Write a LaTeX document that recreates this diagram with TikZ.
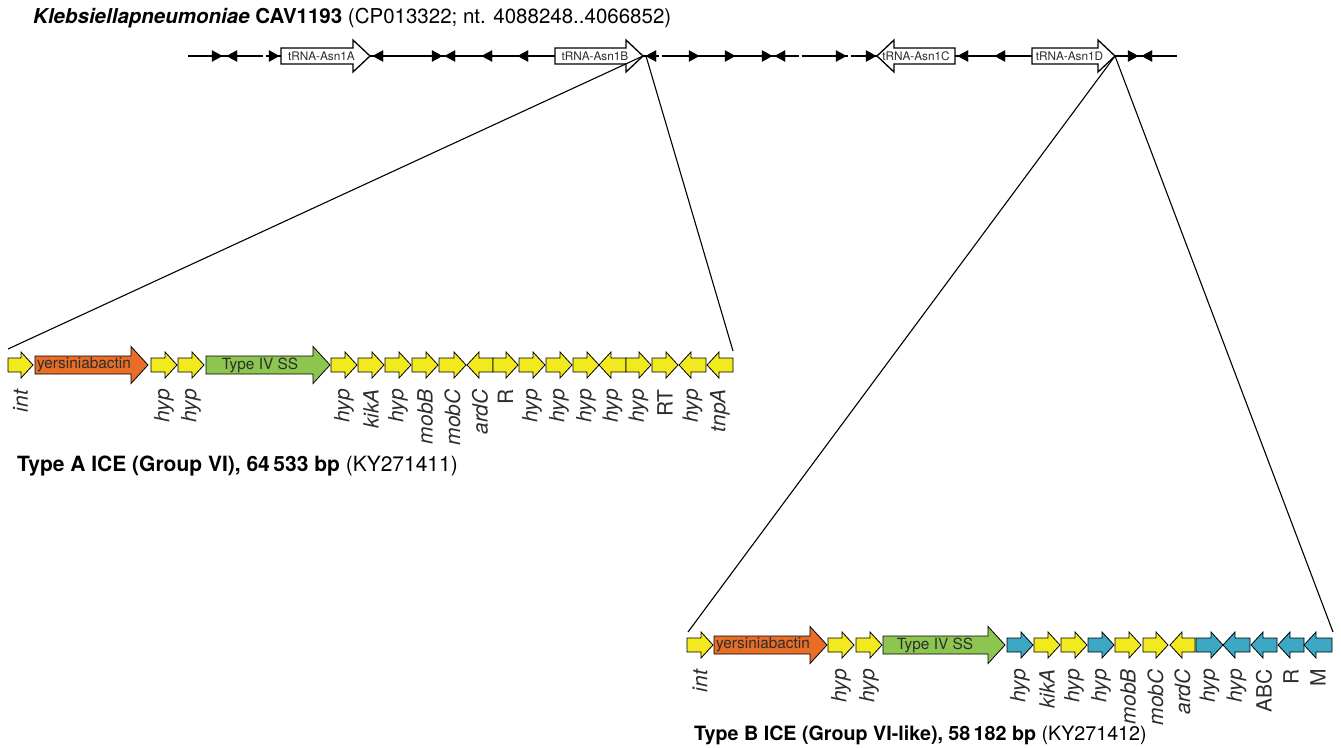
\documentclass[tikz,border=0pt]{standalone}
\usepackage{fontspec}
\setmainfont{TeX Gyre Heros}
\definecolor{gyel}{RGB}{242,234,30}
\definecolor{gorg}{RGB}{232,110,40}
\definecolor{ggrn}{RGB}{140,198,80}
\definecolor{gblu}{RGB}{60,168,196}
\definecolor{gtxt}{RGB}{45,45,45}
\tikzset{
  gene/.style={draw=black, line width=0.8pt, line join=miter},
  trna/.style={draw=black, line width=1.3pt, fill=white, line join=miter},
  hold/.style={inner sep=0pt, outer sep=0pt},
  glabel/.style={rotate=90, anchor=east, inner sep=0pt, text=gtxt, font=\fontsize{21}{21}\selectfont},
  intext/.style={inner sep=0pt, text=gtxt, font=\fontsize{15.4}{15.4}\selectfont},
  trtext/.style={inner sep=0pt, text=gtxt, font=\fontsize{11.8}{11.8}\selectfont},
  zoomline/.style={line width=1.1pt},
  tline/.style={line width=1.3pt},
  tip/.style={fill=black, draw=black, line width=0.4pt, line join=miter},
  caption/.style={inner sep=0pt, anchor=base west}
}
% generic arrows: name, x1, x2, y, colour, bodyhalf, headhalf, headlen
\newcommand{\gR}[8]{%
  \draw[gene, fill=#5] (#2,#4-#6) -- (#3-#8,#4-#6) -- (#3-#8,#4-#7) -- (#3,#4) -- (#3-#8,#4+#7) -- (#3-#8,#4+#6) -- (#2,#4+#6) -- cycle;
  \node[hold, minimum width={(#3-#2)*1pt}, minimum height={2*#7*1pt}] (#1) at ({(#2+#3)/2},#4) {};}
\newcommand{\gL}[8]{%
  \draw[gene, fill=#5] (#3,#4-#6) -- (#2+#8,#4-#6) -- (#2+#8,#4-#7) -- (#2,#4) -- (#2+#8,#4+#7) -- (#2+#8,#4+#6) -- (#3,#4+#6) -- cycle;
  \node[hold, minimum width={(#3-#2)*1pt}, minimum height={2*#7*1pt}] (#1) at ({(#2+#3)/2},#4) {};}
\newcommand{\sR}[5]{\gR{#1}{#2}{#3}{#4}{#5}{7}{13}{12}}
\newcommand{\sL}[5]{\gL{#1}{#2}{#3}{#4}{#5}{7}{13}{12}}
\newcommand{\bR}[5]{\gR{#1}{#2}{#3}{#4}{#5}{9}{18.5}{17}}
\newcommand{\glab}[2]{\node[glabel] (#1t) at ([yshift=-11pt]#1.south) {#2};}
% tRNA boxes: name, x1, x2, text
\newcommand{\tR}[4]{%
  \draw[trna] (#2,48) -- (#3-17,48) -- (#3-17,40) -- (#3,56) -- (#3-17,72) -- (#3-17,64) -- (#2,64) -- cycle;
  \node[trtext] (#1) at ({(#2+#3)/2-4},56) {#4};}
\newcommand{\tL}[4]{%
  \draw[trna] (#3,48) -- (#2+17,48) -- (#2+17,40) -- (#2,56) -- (#2+17,72) -- (#2+17,64) -- (#3,64) -- cycle;
  \node[trtext] (#1) at ({(#2+#3)/2},56) {#4};}
% small arrowheads on the chromosome line
\newcommand{\hR}[1]{\fill[tip] (#1,56) -- (#1-10,50.5) -- (#1-10,61.5) -- cycle;}
\newcommand{\hL}[1]{\fill[tip] (#1,56) -- (#1+10,50.5) -- (#1+10,61.5) -- cycle;}
\begin{document}
\begin{tikzpicture}[x=1pt, y=-1pt]
\useasboundingbox (0,0) rectangle (1341,747);
\fill[white] (0,0) rectangle (1341,747);

% title
\node[caption, font=\fontsize{20.5}{20.5}\selectfont] (title) at (33,23) {\textbf{\textit{Klebsiellapneumoniae}} \textbf{CAV1193} (CP013322; nt. 4088248..4066852)};

% chromosome line
\draw[tline] (188,56) -- (263,56);
\draw[tline] (265.5,56) -- (659,56);
\draw[tline] (661.5,56) -- (799,56);
\draw[tline] (801.5,56) -- (848,56);
\draw[tline] (850.5,56) -- (1177,56);
\hR{222} \hL{227} \hR{279}
\hL{373} \hR{442} \hL{445} \hL{482} \hL{518}
\hL{646} \hR{699} \hR{735} \hR{772} \hL{775} \hR{846} \hR{876}
\hL{958} \hL{995}
\hR{1138} \hL{1142}
\tR{tA}{281}{370}{tRNA-Asn1A}
\tR{tB}{555}{643}{tRNA-Asn1B}
\tL{tC}{877}{955}{tRNA-Asn1C}
\tR{tD}{1032}{1115}{tRNA-Asn1D}
\coordinate (tBtip) at (643,56);
\coordinate (tDtip) at (1115,56);

% ===== Type A ICE =====
\sR{a1}{8}{33}{365}{gyel}
\bR{a2}{35}{148}{365}{gorg}
\node[intext] (a2t) at (84,365) {yersiniabactin};
\sR{a3}{151}{177}{365}{gyel}
\sR{a4}{178}{204}{365}{gyel}
\bR{a5}{206}{330}{365}{ggrn}
\node[intext] (a5t) at (260,365) {Type IV SS};
\sR{a6}{331}{357}{365}{gyel}
\sR{a7}{358}{384}{365}{gyel}
\sR{a8}{385}{411}{365}{gyel}
\sR{a9}{412}{438}{365}{gyel}
\sR{a10}{439}{466}{365}{gyel}
\sL{a11}{467}{493}{365}{gyel}
\sR{a12}{493}{518}{365}{gyel}
\sR{a13}{519}{545}{365}{gyel}
\sR{a14}{546}{572}{365}{gyel}
\sR{a15}{573}{599}{365}{gyel}
\sL{a16}{599}{626}{365}{gyel}
\sR{a17}{626}{651}{365}{gyel}
\sR{a18}{652}{678}{365}{gyel}
\sL{a19}{679}{706}{365}{gyel}
\sL{a20}{707}{733}{365}{gyel}
\glab{a1}{\textit{int}}
\glab{a3}{\textit{hyp}}
\glab{a4}{\textit{hyp}}
\glab{a6}{\textit{hyp}}
\glab{a7}{\textit{kikA}}
\glab{a8}{\textit{hyp}}
\glab{a9}{\textit{mobB}}
\glab{a10}{\textit{mobC}}
\glab{a11}{\textit{ardC}}
\glab{a12}{R}
\glab{a13}{\textit{hyp}}
\glab{a14}{\textit{hyp}}
\glab{a15}{\textit{hyp}}
\glab{a16}{\textit{hyp}}
\glab{a17}{\textit{hyp}}
\glab{a18}{RT}
\glab{a19}{\textit{hyp}}
\glab{a20}{\textit{tnpA}}
\node[caption, font=\fontsize{21}{21}\selectfont] (capA) at (17,471) {\textbf{Type A ICE (Group VI), 64\,533 bp} (KY271411)};

% ===== Type B ICE =====
\sR{b1}{687}{713}{645}{gyel}
\bR{b2}{714}{827}{645}{gorg}
\node[intext] (b2t) at (763,645) {yersiniabactin};
\sR{b3}{828}{854}{645}{gyel}
\sR{b4}{856}{882}{645}{gyel}
\bR{b5}{883}{1005}{645}{ggrn}
\node[intext] (b5t) at (935,645) {Type IV SS};
\sR{b6}{1007}{1033}{645}{gblu}
\sR{b7}{1034}{1060}{645}{gyel}
\sR{b8}{1061}{1087}{645}{gyel}
\sR{b9}{1088}{1114}{645}{gblu}
\sR{b10}{1115}{1141}{645}{gyel}
\sR{b11}{1143}{1168}{645}{gyel}
\sL{b12}{1170}{1195}{645}{gyel}
\sR{b13}{1196}{1223}{645}{gblu}
\sL{b14}{1223}{1250}{645}{gblu}
\sL{b15}{1251}{1277}{645}{gblu}
\sL{b16}{1278}{1304}{645}{gblu}
\sL{b17}{1304}{1332}{645}{gblu}
\glab{b1}{\textit{int}}
\glab{b3}{\textit{hyp}}
\glab{b4}{\textit{hyp}}
\glab{b6}{\textit{hyp}}
\glab{b7}{\textit{kikA}}
\glab{b8}{\textit{hyp}}
\glab{b9}{\textit{hyp}}
\glab{b10}{\textit{mobB}}
\glab{b11}{\textit{mobC}}
\glab{b12}{\textit{ardC}}
\glab{b13}{\textit{hyp}}
\glab{b14}{\textit{hyp}}
\glab{b15}{ABC}
\glab{b16}{R}
\glab{b17}{M}
\node[caption, font=\fontsize{19.7}{19.7}\selectfont] (capB) at (694,740) {\textbf{Type B ICE (Group VI-like), 58\,182 bp} (KY271412)};

% expansion lines
\coordinate (aLft) at (8,349);
\coordinate (aRgt) at (733,351);
\coordinate (bLft) at (688,632);
\coordinate (bRgt) at (1333,632);
\draw[zoomline] (tBtip) -- (aLft);
\draw[zoomline] ([xshift=3pt]tBtip) -- (aRgt);
\draw[zoomline] (tDtip) -- (bLft);
\draw[zoomline] (tDtip) -- (bRgt);
\end{tikzpicture}
\end{document}
